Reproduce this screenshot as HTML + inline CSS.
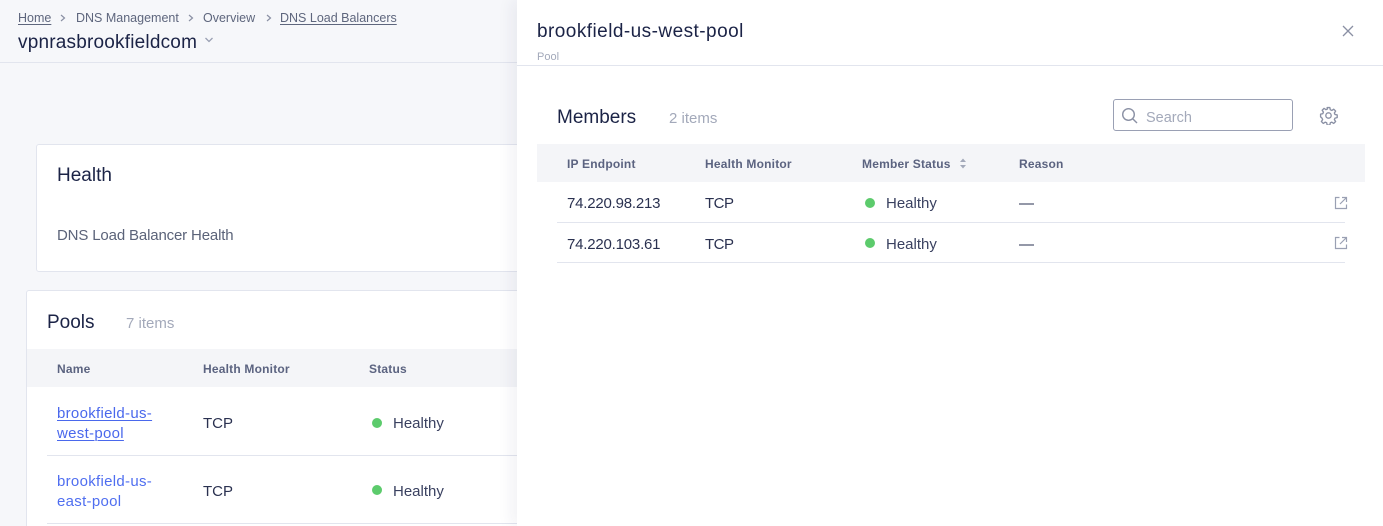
<!DOCTYPE html>
<html><head><meta charset="utf-8">
<style>
html,body{margin:0;padding:0;width:1383px;height:526px;overflow:hidden;}
body{position:relative;background:#f6f7fa;font-family:"Liberation Sans",Arial,sans-serif;}
.t{position:absolute;white-space:nowrap;}
.bc{font-size:12.5px;line-height:16px;color:#5e667d;top:10px;}
.u{text-decoration:underline;text-underline-offset:2px;text-decoration-thickness:1px;}
.h19{font-size:19px;line-height:24px;color:#1b2346;}
.b15{font-size:15px;line-height:20px;color:#2a3150;}
.th{font-size:12px;line-height:16px;font-weight:bold;color:#5b6380;letter-spacing:0.2px;}
.muted{color:#a3a9ba;}
.dot{position:absolute;width:10px;height:10px;border-radius:50%;background:#5ccb6c;}
.hr{position:absolute;height:1px;background:#e2e5ee;}
.link{color:#4f6ef0;letter-spacing:0.3px;}
</style></head><body>

<!-- left page header -->
<div class="t bc u" style="left:18px;">Home</div>
<svg style="position:absolute;left:60px;top:14px;" width="6" height="8"><path d="M1 1 L4.5 4 L1 7" fill="none" stroke="#8a90a4" stroke-width="1.2"/></svg>
<div class="t bc" style="left:76px;">DNS Management</div>
<svg style="position:absolute;left:188px;top:14px;" width="6" height="8"><path d="M1 1 L4.5 4 L1 7" fill="none" stroke="#8a90a4" stroke-width="1.2"/></svg>
<div class="t bc" style="left:203px;">Overview</div>
<svg style="position:absolute;left:266px;top:14px;" width="6" height="8"><path d="M1 1 L4.5 4 L1 7" fill="none" stroke="#8a90a4" stroke-width="1.2"/></svg>
<div class="t bc u" style="left:280px;">DNS Load Balancers</div>
<div class="t h19" style="left:18px;top:31px;letter-spacing:0.2px;">vpnrasbrookfieldcom</div>
<svg style="position:absolute;left:204px;top:36px;" width="10" height="8"><path d="M1.5 2 L5 5.5 L8.5 2" fill="none" stroke="#9aa0b3" stroke-width="1.3"/></svg>
<div class="hr" style="left:0;top:62px;width:517px;"></div>

<!-- Health card -->
<div style="position:absolute;left:36px;top:144px;width:600px;height:126px;background:#fff;border:1px solid #e2e5ee;border-radius:3px;"></div>
<div class="t h19" style="left:57px;top:164px;">Health</div>
<div class="t b15" style="left:57px;top:226px;color:#5b6379;letter-spacing:-0.15px;">DNS Load Balancer Health</div>

<!-- Pools card -->
<div style="position:absolute;left:26px;top:290px;width:600px;height:240px;background:#fff;border:1px solid #e2e5ee;border-radius:3px;"></div>
<div class="t h19" style="left:47px;top:311px;">Pools</div>
<div class="t b15 muted" style="left:126px;top:314px;">7 items</div>
<div style="position:absolute;left:27px;top:349px;width:500px;height:38px;background:#f4f5f8;"></div>
<div class="t th" style="left:57px;top:361px;">Name</div>
<div class="t th" style="left:203px;top:361px;">Health Monitor</div>
<div class="t th" style="left:369px;top:361px;">Status</div>

<div class="t b15 link u" style="left:57px;top:404px;color:#4a68ec;">brookfield-us-</div>
<div class="t b15 link u" style="left:57px;top:424px;color:#4a68ec;">west-pool</div>
<div class="t b15" style="left:203px;top:414px;">TCP</div>
<div class="dot" style="left:372px;top:418px;"></div>
<div class="t b15" style="left:393px;top:414px;color:#3a4160;">Healthy</div>
<div class="hr" style="left:47px;top:455px;width:480px;"></div>

<div class="t b15 link" style="left:57px;top:472px;">brookfield-us-</div>
<div class="t b15 link" style="left:57px;top:492px;">east-pool</div>
<div class="t b15" style="left:203px;top:482px;">TCP</div>
<div class="dot" style="left:372px;top:485px;"></div>
<div class="t b15" style="left:393px;top:482px;color:#3a4160;">Healthy</div>
<div class="hr" style="left:47px;top:523px;width:480px;"></div>

<!-- right panel -->
<div style="position:absolute;left:517px;top:0;width:866px;height:526px;background:#fff;box-shadow:-6px 0 14px rgba(30,40,80,0.06);"></div>
<div class="t h19" style="left:537px;top:20px;letter-spacing:0.45px;">brookfield-us-west-pool</div>
<div class="t" style="left:537px;top:50px;font-size:11px;line-height:14px;color:#a3a9ba;">Pool</div>
<svg style="position:absolute;left:1342px;top:25px;" width="12" height="12"><path d="M1 1 L11 11 M11 1 L1 11" stroke="#8a90a4" stroke-width="1.3"/></svg>
<div class="hr" style="left:517px;top:65px;width:866px;"></div>

<div class="t h19" style="left:557px;top:106px;">Members</div>
<div class="t b15 muted" style="left:669px;top:109px;">2 items</div>
<div style="position:absolute;left:1113px;top:99px;width:178px;height:30px;border:1px solid #9aa0b4;border-radius:3px;background:#fff;"></div>
<svg style="position:absolute;left:1121px;top:107px;" width="20" height="20"><circle cx="7.5" cy="7.5" r="5.8" fill="none" stroke="#8a90a4" stroke-width="1.4"/><path d="M11.7 11.7 L16 16" stroke="#8a90a4" stroke-width="1.4"/></svg>
<div class="t b15" style="left:1146px;top:108px;color:#a3a9ba;font-size:14.5px;">Search</div>
<svg style="position:absolute;left:1319px;top:106px;" width="19" height="19" viewBox="0 0 24 24"><path fill="none" stroke="#8a90a4" stroke-width="1.7" stroke-linejoin="round" d="M10.3 2h3.4l.6 2.8 1.9.8 2.4-1.6 2.4 2.4-1.6 2.4.8 1.9 2.8.6v3.4l-2.8.6-.8 1.9 1.6 2.4-2.4 2.4-2.4-1.6-1.9.8-.6 2.8h-3.4l-.6-2.8-1.9-.8-2.4 1.6-2.4-2.4 1.6-2.4-.8-1.9L2 13.7v-3.4l2.8-.6.8-1.9L4 5.4 6.4 3l2.4 1.6 1.9-.8z"/><circle cx="12" cy="12" r="3.4" fill="none" stroke="#8a90a4" stroke-width="1.7"/></svg>

<div style="position:absolute;left:537px;top:144px;width:828px;height:38px;background:#f4f5f8;"></div>
<div class="t th" style="left:567px;top:156px;">IP Endpoint</div>
<div class="t th" style="left:705px;top:156px;">Health Monitor</div>
<div class="t th" style="left:862px;top:156px;">Member Status</div>
<svg style="position:absolute;left:959px;top:157px;" width="8" height="13"><path d="M1 5 L4 1.5 L7 5 Z M1 8 L4 11.5 L7 8 Z" fill="#a3a9ba"/></svg>
<div class="t th" style="left:1019px;top:156px;">Reason</div>

<div class="t b15" style="left:567px;top:194px;letter-spacing:-0.2px;">74.220.98.213</div>
<div class="t b15" style="left:705px;top:194px;letter-spacing:-0.5px;">TCP</div>
<div class="dot" style="left:865px;top:198px;"></div>
<div class="t b15" style="left:886px;top:194px;color:#3a4160;">Healthy</div>
<div class="t b15" style="left:1019px;top:194px;">&#8212;</div>
<svg style="position:absolute;left:1334px;top:196px;" width="14" height="14"><path d="M5.5 1.5 H1.5 V12.5 H12.5 V8.5" fill="none" stroke="#9aa0b3" stroke-width="1.2"/><path d="M8 1.5 H12.5 V6 M12.5 1.5 L6 8" fill="none" stroke="#9aa0b3" stroke-width="1.2"/></svg>
<div class="hr" style="left:557px;top:222px;width:788px;"></div>

<div class="t b15" style="left:567px;top:235px;letter-spacing:-0.2px;">74.220.103.61</div>
<div class="t b15" style="left:705px;top:235px;letter-spacing:-0.5px;">TCP</div>
<div class="dot" style="left:865px;top:238px;"></div>
<div class="t b15" style="left:886px;top:235px;color:#3a4160;">Healthy</div>
<div class="t b15" style="left:1019px;top:235px;">&#8212;</div>
<svg style="position:absolute;left:1334px;top:236px;" width="14" height="14"><path d="M5.5 1.5 H1.5 V12.5 H12.5 V8.5" fill="none" stroke="#9aa0b3" stroke-width="1.2"/><path d="M8 1.5 H12.5 V6 M12.5 1.5 L6 8" fill="none" stroke="#9aa0b3" stroke-width="1.2"/></svg>
<div class="hr" style="left:557px;top:262px;width:788px;"></div>

</body></html>
